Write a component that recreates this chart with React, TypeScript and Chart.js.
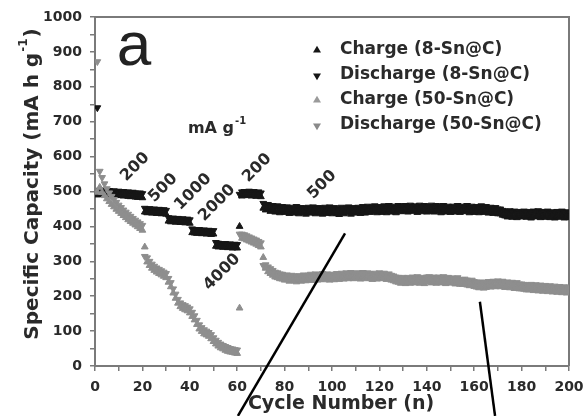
import React, { useEffect, useRef } from 'react';
import { Chart, registerables } from 'chart.js';

Chart.register(...registerables);

// ---------- DATA ----------
const firstCycle = 1;

const charge8 = [
  490,
  492, 493, 491, 492, 490, 491, 489, 490, 488, 489, 487, 488, 486, 485, 486, 484, 483, 484, 482,
  441, 439, 440, 438, 439, 437, 438, 436, 437, 435,
  415, 413, 414, 412, 413, 411, 412, 410, 411, 409,
  382, 381, 380, 381, 379, 380, 378, 379, 377, 378,
  343, 341, 342, 340, 341, 339, 340, 338, 339, 338,
  400,
  487, 489, 488, 490, 487, 489, 486, 488, 485,
  452, 447, 449, 443, 446, 441, 444, 439, 443, 440,
  442, 437, 441, 438, 443, 436, 440, 439, 435, 441,
  438, 442, 436, 440, 439, 435, 441, 437, 442, 436,
  440, 437, 434, 441, 436, 439, 442, 435, 440, 438,
  441, 437, 443, 438, 444, 440, 442, 445, 439, 443,
  440, 445, 439, 446, 441, 444, 439, 446, 442, 444,
  446, 441, 447, 443, 445, 440, 447, 442, 446, 441,
  443, 447, 441, 446, 443, 439, 446, 441, 444, 440,
  444, 441, 446, 440, 444, 442, 446, 439, 444, 440,
  443, 439, 445, 440, 443, 438, 441, 437, 440, 436,
  436, 432, 430, 427, 431, 426, 430, 425, 429, 427,
  430, 426, 429, 424, 430, 427, 431, 425, 429, 426,
  430, 425, 428, 424, 429, 426, 430, 424, 428, 425,
];

const discharge8 = [
  740,
  504, 503, 504, 502, 503, 501, 502, 500, 501, 499, 500, 498, 499, 497, 498, 496, 495, 496, 494,
  452, 450, 451, 449, 450, 448, 449, 447, 448, 446,
  425, 423, 424, 422, 423, 421, 422, 420, 421, 419,
  393, 391, 390, 391, 389, 390, 388, 389, 387, 388,
  354, 352, 351, 350, 351, 349, 350, 348, 349, 348,
  492,
  499, 500, 499, 501, 498, 500, 497, 499, 496,
  466, 462, 463, 458, 460, 456, 459, 454, 457, 455,
  456, 452, 455, 451, 457, 450, 454, 453, 449, 455,
  452, 456, 450, 454, 453, 449, 455, 451, 456, 450,
  454, 451, 448, 455, 450, 453, 456, 449, 454, 452,
  455, 451, 457, 452, 458, 454, 456, 459, 453, 457,
  454, 459, 453, 460, 455, 458, 453, 460, 456, 458,
  460, 455, 461, 457, 459, 454, 461, 456, 460, 455,
  457, 461, 455, 460, 457, 453, 460, 455, 458, 454,
  458, 455, 460, 454, 458, 456, 460, 453, 458, 454,
  457, 453, 459, 454, 457, 452, 455, 451, 454, 450,
  450, 446, 444, 441, 445, 440, 444, 439, 443, 441,
  444, 440, 443, 438, 444, 441, 445, 439, 443, 440,
  444, 439, 442, 438, 443, 440, 444, 438, 442, 439,
];

const charge50 = [
  498,
  512, 497, 488, 479, 471, 463, 456, 449, 443, 437, 431, 425, 419, 414, 409, 404, 399, 394, 389,
  341,
  298, 288, 280, 274, 269, 265, 261, 257, 253,
  240, 227, 209, 194, 180, 170, 165, 161, 158, 152,
  142, 132, 119, 106, 99, 92, 89, 85, 78, 70,
  63, 57, 52, 49, 45, 42, 40, 39, 37, 36,
  166,
  366, 364, 361, 358, 355, 352, 349, 345, 341,
  311,
  280, 270, 265, 260, 255, 253, 250, 249, 246,
  247, 243, 246, 244, 241, 245, 243, 247, 244, 246,
  249, 245, 250, 246, 248, 251, 247, 250, 246, 249,
  247, 251, 248, 252, 249, 253, 250, 254, 250, 252,
  253, 249, 254, 250, 253, 251, 248, 252, 249, 253,
  250, 252, 248, 250, 246, 244, 241, 240, 237, 240,
  236, 240, 237, 241, 238, 242, 237, 240, 236, 241,
  242, 238, 241, 237, 241, 238, 242, 236, 240, 238,
  238, 235, 239, 234, 234, 235, 232, 230, 232, 228,
  226, 224, 227, 223, 225, 228, 226, 229, 227, 230,
  227, 229, 225, 227, 224, 226, 222, 225, 221, 221,
  220, 218, 218, 220, 216, 219, 215, 218, 214, 217,
  213, 216, 212, 215, 211, 214, 210, 213, 209, 212,
];

const discharge50 = [
  872,
  558, 540, 522, 508, 496, 486, 477, 469, 461, 454, 447, 441, 435, 429, 423, 418, 413, 408, 403,
  314,
  310, 300, 292, 286, 281, 277, 273, 269, 265,
  251, 239, 221, 206, 191, 181, 176, 173, 169, 164,
  154, 144, 131, 118, 110, 104, 100, 96, 90, 81,
  74, 68, 63, 59, 56, 53, 50, 49, 47, 46,
  378,
  378, 376, 373, 370, 367, 364, 361, 357, 353,
  288,
  290, 284, 279, 274, 269, 267, 264, 263, 260,
  261, 257, 260, 258, 255, 259, 257, 261, 258, 260,
  263, 259, 264, 260, 262, 265, 261, 264, 260, 263,
  261, 265, 262, 266, 263, 267, 264, 268, 264, 266,
  267, 263, 268, 264, 267, 265, 262, 266, 263, 267,
  264, 266, 262, 264, 260, 258, 255, 254, 251, 254,
  250, 254, 251, 255, 252, 256, 251, 254, 250, 255,
  256, 252, 255, 251, 255, 252, 256, 250, 254, 252,
  252, 249, 253, 248, 248, 249, 246, 244, 246, 242,
  240, 238, 241, 237, 239, 242, 240, 243, 241, 244,
  241, 243, 239, 241, 238, 240, 236, 239, 235, 235,
  234, 232, 232, 234, 230, 233, 229, 232, 228, 231,
  227, 230, 226, 229, 225, 228, 224, 227, 223, 226,
];

const seriesLabels = [
  'Charge (8-Sn@C)',
  'Discharge (8-Sn@C)',
  'Charge (50-Sn@C)',
  'Discharge (50-Sn@C)',
];

const xTickLabels = [0, 20, 40, 60, 80, 100, 120, 140, 160, 180, 200];
const yTickLabels = [0, 100, 200, 300, 400, 500, 600, 700, 800, 900, 1000];

const rateLabels = ['200', '500', '1000', '2000', '4000', '200', '500'];

// ---------- ANNOTATION PLACEMENT (data coordinates) ----------
const rateAnchors = [
  [16.9, 570], [28.7, 510], [41.4, 499], [51.5, 467], [53.6, 269], [68.4, 567], [95.8, 519],
];
const pointerLines = [
  [[105.5, 380], [60.3, -143]],
  [[162.4, 184], [168.8, -143]],
];

const BLACK = '#161616';
const GRAY = '#8e8e8e';
const AXIS = '#7a7a7a';
const TEXT = '#2a2a2a';

function toPoints(values: number[]) {
  return values.map((v, i) => ({ x: i + firstCycle, y: v }));
}

function triangle(ctx: CanvasRenderingContext2D, cx: number, cy: number, r: number, down: boolean, color: string) {
  ctx.save();
  ctx.fillStyle = color;
  ctx.beginPath();
  const s = down ? -1 : 1;
  ctx.moveTo(cx, cy - s * r);
  ctx.lineTo(cx + r * 0.95, cy + s * r * 0.6);
  ctx.lineTo(cx - r * 0.95, cy + s * r * 0.6);
  ctx.closePath();
  ctx.fill();
  ctx.restore();
}

const decorPlugin = {
  id: 'decor',
  beforeDatasetsDraw(chart: any) {
    const { ctx, chartArea: a } = chart;
    ctx.save();
    ctx.strokeStyle = AXIS;
    ctx.lineWidth = 2;
    ctx.beginPath();
    ctx.moveTo(a.left, a.top);
    ctx.lineTo(a.right, a.top);
    ctx.lineTo(a.right, a.bottom);
    ctx.stroke();
    ctx.restore();
  },
  afterDraw(chart: any) {
    const { ctx, chartArea: a, scales } = chart;
    const xs = scales.x;
    const ys = scales.y;
    ctx.save();

    // big panel letter
    ctx.fillStyle = '#222';
    ctx.font = '62px "Liberation Sans"';
    ctx.textAlign = 'center';
    ctx.textBaseline = 'alphabetic';
    ctx.fillText('a', xs.getPixelForValue(16.5), ys.getPixelForValue(862));

    // unit label mA g-1
    ctx.font = 'bold 16px "DejaVu Sans"';
    ctx.fillStyle = TEXT;
    ctx.textAlign = 'left';
    const ux = xs.getPixelForValue(39.2);
    const uy = ys.getPixelForValue(668);
    ctx.fillText('mA g', ux, uy);
    const uw = ctx.measureText('mA g').width;
    ctx.font = 'bold 10px "DejaVu Sans"';
    ctx.fillText('-1', ux + uw + 1, uy - 9);

    // rate labels
    ctx.font = 'bold 16px "DejaVu Sans"';
    ctx.textAlign = 'center';
    ctx.textBaseline = 'middle';
    rateLabels.forEach((t, i) => {
      const [cx, cy] = rateAnchors[i];
      ctx.save();
      ctx.translate(xs.getPixelForValue(cx), ys.getPixelForValue(cy));
      ctx.rotate(-Math.PI / 4);
      ctx.fillText(t, 0, 0);
      ctx.restore();
    });

    // legend
    const colors = [BLACK, BLACK, '#9a9a9a', '#8a8a8a'];
    ctx.font = 'bold 17px "DejaVu Sans"';
    ctx.textAlign = 'left';
    ctx.textBaseline = 'middle';
    seriesLabels.forEach((label, i) => {
      const ly = a.top + 33 + i * 25;
      triangle(ctx, a.left + 222, ly + (i % 2 ? 1 : 0), 4.2, i % 2 === 1, colors[i]);
      ctx.fillStyle = TEXT;
      ctx.fillText(label, a.left + 245, ly);
    });

    // axis titles
    ctx.fillStyle = TEXT;
    ctx.font = 'bold 19px "DejaVu Sans"';
    ctx.textAlign = 'center';
    ctx.textBaseline = 'middle';
    ctx.fillText('Cycle Number (n)', a.left + 246, a.bottom + 38);

    ctx.save();
    ctx.translate(a.left - 62, a.top + 167);
    ctx.rotate(-Math.PI / 2);
    const main = 'Specific Capacity (mA h g';
    ctx.font = 'bold 20px "DejaVu Sans"';
    const wMain = ctx.measureText(main).width;
    ctx.font = 'bold 12px "DejaVu Sans"';
    const wSup = ctx.measureText('-1').width;
    ctx.font = 'bold 20px "DejaVu Sans"';
    const wEnd = ctx.measureText(')').width;
    const total = wMain + wSup + 2 + wEnd;
    let px = -total / 2;
    ctx.textAlign = 'left';
    ctx.fillText(main, px, 0);
    px += wMain + 1;
    ctx.font = 'bold 12px "DejaVu Sans"';
    ctx.fillText('-1', px, -9);
    px += wSup + 1;
    ctx.font = 'bold 20px "DejaVu Sans"';
    ctx.fillText(')', px, 0);
    ctx.restore();

    // pointer lines
    ctx.strokeStyle = '#000';
    ctx.lineWidth = 2.5;
    pointerLines.forEach(([p0, p1]) => {
      ctx.beginPath();
      ctx.moveTo(xs.getPixelForValue(p0[0]), ys.getPixelForValue(p0[1]));
      ctx.lineTo(xs.getPixelForValue(p1[0]), ys.getPixelForValue(p1[1]));
      ctx.stroke();
    });

    ctx.restore();
  },
};

export default function App() {
  const ref = useRef<HTMLCanvasElement>(null);

  useEffect(() => {
    if (!ref.current) return;
    const mk = (label: string, values: number[], color: string, down: boolean, order: number) => ({
      label,
      data: toPoints(values),
      showLine: false,
      pointStyle: 'triangle',
      pointRotation: down ? 180 : 0,
      pointRadius: 3.9,
      pointBorderWidth: 1,
      pointBackgroundColor: color,
      pointBorderColor: color,
      backgroundColor: color,
      borderColor: color,
      order,
    });
    const chart = new Chart(ref.current, {
      type: 'line',
      data: {
        datasets: [
          mk(seriesLabels[0], charge8, BLACK, false, 2),
          mk(seriesLabels[1], discharge8, BLACK, true, 2),
          mk(seriesLabels[2], charge50, GRAY, false, 1),
          mk(seriesLabels[3], discharge50, GRAY, true, 1),
        ],
      },
      options: {
        animation: false,
        responsive: false,
        devicePixelRatio: 1,
        layout: { padding: { top: 17, right: 15, left: 0, bottom: 0 } },
        plugins: { legend: { display: false }, tooltip: { enabled: false } },
        scales: {
          x: {
            type: 'linear',
            min: 0,
            max: 200,
            ticks: {
              stepSize: 10,
              autoSkip: false,
              maxRotation: 0,
              padding: 8,
              color: TEXT,
              font: { family: 'DejaVu Sans', weight: 'bold', size: 14 },
              callback: (v: any) => (xTickLabels.includes(Number(v)) ? String(v) : ''),
            },
            grid: { display: true, drawOnChartArea: false, tickLength: 5, color: AXIS, lineWidth: 1.5 },
            border: { display: true, color: AXIS, width: 2 },
            afterFit: (s: any) => { s.height = 50; s.paddingLeft = 0; s.paddingRight = 0; },
          },
          y: {
            min: 0,
            max: 1000,
            ticks: {
              stepSize: 50,
              autoSkip: false,
              padding: 8,
              color: TEXT,
              font: { family: 'DejaVu Sans', weight: 'bold', size: 14 },
              callback: (v: any) => (yTickLabels.includes(Number(v)) ? String(v) : ''),
            },
            grid: { display: true, drawOnChartArea: false, tickLength: 5, color: AXIS, lineWidth: 1.5 },
            border: { display: true, color: AXIS, width: 2 },
            afterFit: (s: any) => { s.width = 95; s.paddingTop = 0; s.paddingBottom = 0; },
          },
        },
      } as any,
      plugins: [decorPlugin],
    });
    return () => chart.destroy();
  }, []);

  return (
    <div style={{ position: 'fixed', left: 0, top: 0, width: 584, height: 416, background: '#fff' }}>
      <canvas ref={ref} width={584} height={416} style={{ display: 'block' }} />
    </div>
  );
}
